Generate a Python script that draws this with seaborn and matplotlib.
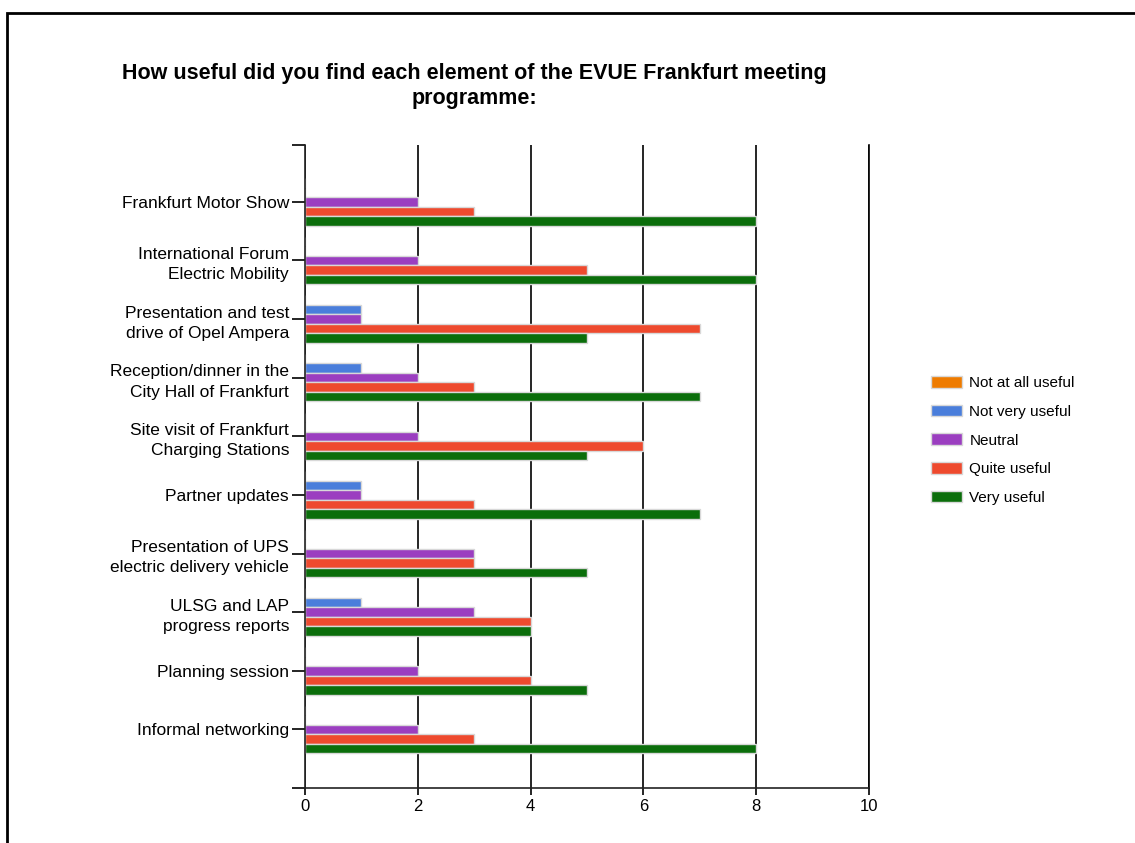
import matplotlib
matplotlib.use("Agg")
import matplotlib.pyplot as plt
import matplotlib.patches as mpatches
import seaborn as sns
import pandas as pd

categories = [
    "Frankfurt Motor Show",
    "International Forum\nElectric Mobility",
    "Presentation and test\ndrive of Opel Ampera",
    "Reception/dinner in the\nCity Hall of Frankfurt",
    "Site visit of Frankfurt\nCharging Stations",
    "Partner updates",
    "Presentation of UPS\nelectric delivery vehicle",
    "ULSG and LAP\nprogress reports",
    "Planning session",
    "Informal networking",
]
series = ["Not at all useful", "Not very useful", "Neutral", "Quite useful", "Very useful"]
not_at_all = [0, 0, 0, 0, 0, 0, 0, 0, 0, 0]
not_very = [0, 0, 1, 1, 0, 1, 0, 1, 0, 0]
neutral = [2, 2, 1, 2, 2, 1, 3, 3, 2, 2]
quite = [3, 5, 7, 3, 6, 3, 3, 4, 4, 3]
very = [8, 8, 5, 7, 5, 7, 5, 4, 5, 8]
colors = ["#EE7B00", "#4A7EDB", "#9B3EC0", "#EE4A2E", "#0B6E0B"]
xticks = [0, 2, 4, 6, 8, 10]
title = "How useful did you find each element of the EVUE Frankfurt meeting\nprogramme:"

rows = []
for s, vals in zip(series, [not_at_all, not_very, neutral, quite, very]):
    for c, v in zip(categories, vals):
        rows.append({"cat": c, "series": s, "value": v})
df = pd.DataFrame(rows)

sns.set_theme(style="white")
plt.rcParams["font.family"] = ["Liberation Sans", "DejaVu Sans"]
plt.rcParams["text.color"] = "black"
plt.rcParams["xtick.color"] = "black"
plt.rcParams["ytick.color"] = "black"

fig = plt.figure(figsize=(11.35, 8.43), dpi=100)
ax = fig.add_axes([305/1135, 1-788/843, (869-305)/1135, (788-145)/843])

sns.barplot(data=df, y="cat", x="value", hue="series", order=categories,
            hue_order=series, palette=dict(zip(series, colors)), orient="h",
            width=0.81, edgecolor="#d8d8d8", linewidth=1, ax=ax, legend=False,
            errorbar=None, saturation=1)

ax.set_xlim(0, 10)
ax.set_ylim(10.0, -0.97)
ax.set_xticks(xticks)
ax.set_xticklabels([str(t) for t in xticks], fontsize=12)
ax.set_xlabel("")
ax.set_ylabel("")
ax.tick_params(axis="y", labelsize=12.5, length=9.5, width=1.2, direction="out",
               left=True, pad=2)
ax.tick_params(axis="x", length=5, width=1.2, direction="out", bottom=True, pad=3)
ax.set_yticks([10.0, -0.97], minor=True)
ax.tick_params(axis="y", which="minor", length=9.5, width=1.2, left=True)
for lab in ax.get_yticklabels():
    lab.set_horizontalalignment("right")
    lab.set_multialignment("right")
    lab.set_linespacing(1.45)

ax.xaxis.grid(True, color="black", linewidth=1.2)
ax.set_axisbelow(True)
ax.spines["top"].set_visible(False)
for side in ["left", "bottom", "right"]:
    ax.spines[side].set_color("#222222")
    ax.spines[side].set_linewidth(1.2)
ax.spines["right"].set_color("black")

fig.text(474/1135, 1-86/843, title, ha="center", va="center", fontsize=15.5,
         fontweight="bold", linespacing=1.25, color="black")

handles = [mpatches.Patch(facecolor=c, edgecolor="#d8d8d8", label=s) for s, c in zip(series, colors)]
fig.legend(handles=handles, loc="upper left", bbox_to_anchor=(925/1135, 1-370/843),
           frameon=False, fontsize=11, handlelength=2.0, handleheight=0.8,
           labelspacing=0.95, handletextpad=0.5, borderaxespad=0)

frame = mpatches.Rectangle((7/1135, -0.05), 1.2, 1-13/843+0.05, transform=fig.transFigure,
                           fill=False, edgecolor="black", linewidth=2, clip_on=False)
fig.patches.append(frame)

fig.savefig("out.png", dpi=100, facecolor="white")
